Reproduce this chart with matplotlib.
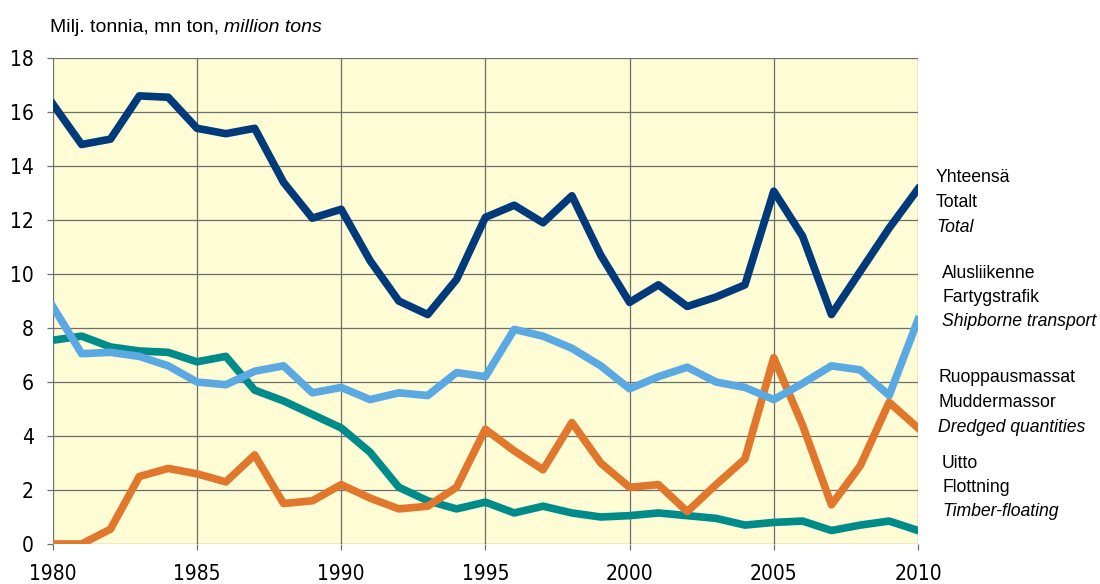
import matplotlib
matplotlib.use('Agg')
from matplotlib import pyplot as plt
from matplotlib import font_manager

years = list(range(1980, 2011))

total = [16.3, 14.8, 15.0, 16.6, 16.55, 15.4, 15.2, 15.4, 13.4, 12.07, 12.4,
         10.5, 9.0, 8.5, 9.8, 12.1, 12.55, 11.9, 12.9, 10.7, 8.95,
         9.6, 8.8, 9.15, 9.6, 13.07, 11.4, 8.5, 10.1, 11.7, 13.15]
shipborne = [8.8, 7.05, 7.1, 6.95, 6.6, 6.0, 5.9, 6.4, 6.6, 5.6, 5.8,
             5.35, 5.6, 5.5, 6.35, 6.2, 7.95, 7.7, 7.25, 6.6, 5.75,
             6.2, 6.55, 6.0, 5.8, 5.35, 5.95, 6.6, 6.45, 5.5, 8.3]
dredged = [0.0, 0.0, 0.55, 2.5, 2.8, 2.6, 2.3, 3.3, 1.5, 1.6, 2.2,
           1.7, 1.3, 1.4, 2.1, 4.25, 3.45, 2.75, 4.5, 3.0, 2.1,
           2.2, 1.2, 2.2, 3.15, 6.9, 4.4, 1.45, 2.9, 5.25, 4.3]
timber = [7.55, 7.7, 7.3, 7.15, 7.1, 6.75, 6.95, 5.7, 5.3, 4.8, 4.3,
          3.4, 2.1, 1.6, 1.3, 1.55, 1.15, 1.4, 1.15, 1.0, 1.05,
          1.15, 1.05, 0.95, 0.7, 0.8, 0.85, 0.5, 0.7, 0.85, 0.5]

labels = [
    ('Yhteensä', 'Totalt', 'Total'),
    ('Alusliikenne', 'Fartygstrafik', 'Shipborne transport'),
    ('Ruoppausmassat', 'Muddermassor', 'Dredged quantities'),
    ('Uitto', 'Flottning', 'Timber-floating'),
]

plt.rcParams['font.family'] = ['Liberation Sans', 'DejaVu Sans']

# narrow font for the tick numbers, if there is one
names = {f.name for f in font_manager.fontManager.ttflist}
if 'Liberation Sans Narrow' in names:
    tick_font = dict(family='Liberation Sans Narrow')
else:
    tick_font = dict(family='DejaVu Sans', stretch='condensed')

fig = plt.figure(figsize=(11, 5.84), dpi=100)
ax = fig.add_axes([0.048, 0.0685, 0.7865, 0.832])
ax.set_facecolor('#fdfcd4')

ax.plot(years, timber, color='#008b8b', lw=5.5, zorder=3)
ax.plot(years, dredged, color='#e0772c', lw=5.5, zorder=3)
ax.plot(years, shipborne, color='#5aa9e2', lw=5.5, zorder=3)
ax.plot(years, total, color='#003a7a', lw=5.5, zorder=4)

ax.set_xlim(1980, 2010)
ax.set_ylim(0, 18)
ax.set_xticks(range(1980, 2011, 5))
ax.set_yticks(range(0, 19, 2))
ax.grid(True, color='#6e6e6e', lw=0.9)
ax.set_axisbelow(True)
for s in ax.spines.values():
    s.set_visible(False)
ax.tick_params(axis='both', length=4.5, width=0.9, color='#6e6e6e',
               labelsize=15)
ax.tick_params(axis='y', pad=9)
ax.tick_params(axis='x', pad=10)
for t in ax.get_xticklabels() + ax.get_yticklabels():
    t.set(**tick_font)

t1 = fig.text(0.0455, 0.945, 'Milj. tonnia, mn ton, ', fontsize=14, va='baseline')
fig.canvas.draw()
ext = t1.get_window_extent()
fig.text(ext.x1 / 1100, 0.945, 'million tons', fontsize=14, va='baseline',
         style='italic')

tops = [178, 273, 378, 463]
xs = [936, 942, 938, 942]
for (fi, sv, en), y0, x0 in zip(labels, tops, xs):
    for i, (txt, st) in enumerate([(fi, 'normal'), (sv, 'normal'), (en, 'italic')]):
        fig.text(x0 / 1100, 1 - (y0 + i * 24.5) / 584, txt, fontsize=12.7,
                 style=st, va='center', ha='left')

fig.savefig('out.png', dpi=100)
